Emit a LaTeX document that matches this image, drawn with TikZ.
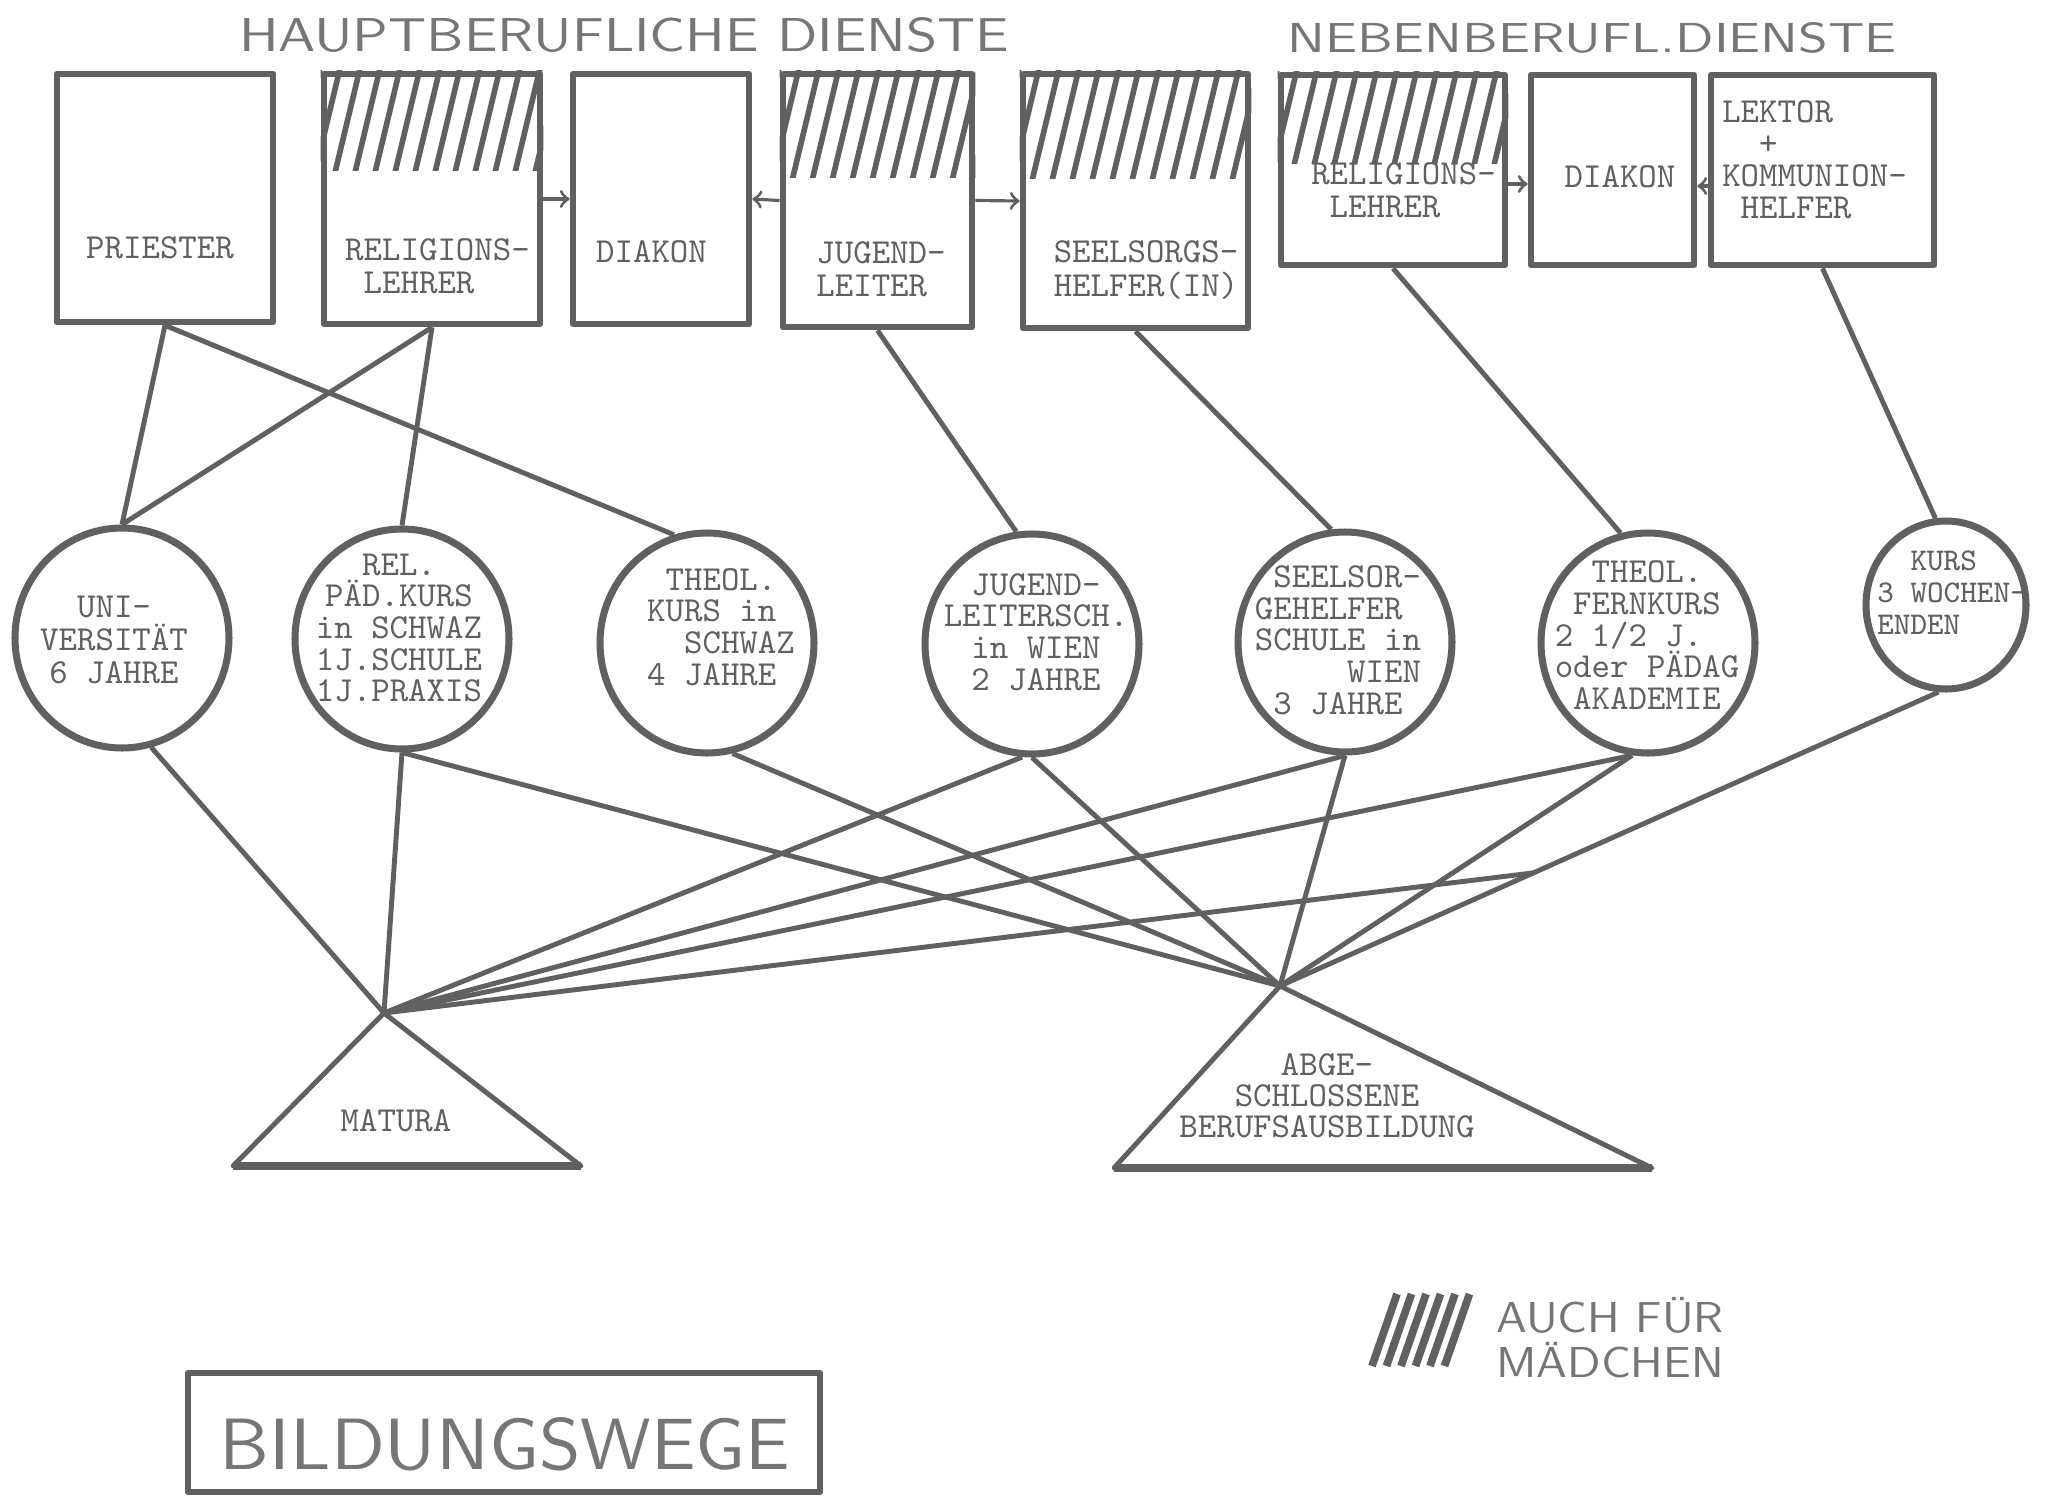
\documentclass[tikz,border=0pt]{standalone}
\usepackage{fontspec}
\usepackage{graphicx}
\usetikzlibrary{shapes.geometric,calc}
\definecolor{ink}{RGB}{96,96,96}
\definecolor{pale}{RGB}{118,118,118}
\newcommand{\lz}{\phantom{0}}

\begin{document}
\begin{tikzpicture}[color=ink,line width=1.4pt,line join=round]
\tikzstyle{box}=[draw,rectangle,line width=1.9pt]
\tikzstyle{kurs}=[draw,ellipse,line width=2pt,minimum width=2.14cm,minimum height=2.2cm]
\tikzstyle{tw}=[font=\ttfamily\fontsize{10}{9.3}\selectfont,inner sep=0pt]
\tikzstyle{hatch}=[line width=1.6pt]
\tikzstyle{pfeil}=[->,line width=0.9pt]
\path[fill=white] (0,0) rectangle (20.46,-15.01);

\node[pale,inner sep=0pt](ti1) at (6.24,-0.35) {\resizebox{7.70cm}{0.34cm}{\sffamily HAUPTBERUFLICHE DIENSTE}};
\node[pale,inner sep=0pt](ti2) at (15.92,-0.38) {\resizebox{6.09cm}{0.30cm}{\sffamily NEBENBERUFL.DIENSTE}};

\node[box,minimum width=2.16cm,minimum height=2.48cm](h1) at (1.65,-1.98) {};
\node[box,minimum width=2.16cm,minimum height=2.50cm](h2) at (4.32,-1.99) {};
\node[box,minimum width=1.76cm,minimum height=2.50cm](h3) at (6.61,-1.99) {};
\node[box,minimum width=1.89cm,minimum height=2.53cm](h4) at (8.775,-2.005) {};
\node[box,minimum width=2.25cm,minimum height=2.54cm](h5) at (11.355,-2.01) {};
\node[box,minimum width=2.24cm,minimum height=1.90cm](n1) at (13.93,-1.70) {};
\node[box,minimum width=1.63cm,minimum height=1.90cm](n2) at (16.125,-1.70) {};
\node[box,minimum width=2.23cm,minimum height=1.90cm](n3) at (18.225,-1.70) {};

\foreach \nm/\tief in {h2/1.0,h4/1.07,h5/1.08,n1/0.92}{
  \begin{scope}
    \clip (\nm.north west) rectangle ([yshift=-\tief cm]\nm.north east);
    \foreach \i in {0,...,12}
      \draw[hatch] ([xshift={\i*0.2cm-0.3cm},yshift=-1.2cm]\nm.north west) -- ++(0.3,1.25);
  \end{scope}
}

\node[tw](t1) at (1.60,-2.48) {PRIESTER};
\node[tw,align=left,font=\ttfamily\fontsize{10}{9.4}\selectfont](t2) at (4.375,-2.665) {RELIGIONS-\\\lz LEHRER};
\node[tw](t3) at (6.515,-2.52) {DIAKON};
\node[tw,align=left,font=\ttfamily\fontsize{10}{9.4}\selectfont](t4) at (8.81,-2.69) {JUGEND-\\LEITER};
\node[tw,align=center,font=\ttfamily\fontsize{10}{9.4}\selectfont](t5) at (11.46,-2.70) {SEELSORGS-\\HELFER(IN)};
\node[tw,align=left,font=\ttfamily\fontsize{10}{9.4}\selectfont](t6) at (14.035,-1.90) {RELIGIONS-\\\lz LEHRER};
\node[tw](t7) at (16.20,-1.77) {DIAKON};
\node[tw,align=left,font=\ttfamily\fontsize{10}{9.1}\selectfont](t8) at (18.145,-1.595) {LEKTOR\\\lz\lz+\\KOMMUNION-\\\lz HELFER};

\draw[pfeil] (h2.east) -- (h3.west);
\draw[pfeil] (h4.west) -- (h3.east);
\draw[pfeil] (h4.east) -- (h5.west);
\draw[pfeil] ([yshift=-0.14cm]n1.east) -- ([yshift=-0.14cm]n2.west);
\draw[pfeil] ([yshift=-0.16cm]n3.west) -- ([yshift=-0.16cm]n2.east);

\node[kurs](k1) at (1.22,-6.38) {};
\node[kurs](k2) at (4.02,-6.39) {};
\node[kurs](k3) at (7.07,-6.43) {};
\node[kurs](k4) at (10.32,-6.44) {};
\node[kurs](k5) at (13.45,-6.42) {};
\node[kurs](k6) at (16.48,-6.43) {};
\node[kurs,minimum width=1.60cm,minimum height=1.68cm](k7) at (19.46,-6.05) {};

\node[tw,align=center](u1) at (1.14,-6.40) {UNI-\\VERSITÄT\\6 JAHRE};
\node[tw,align=center,font=\ttfamily\fontsize{10}{9}\selectfont](u2) at (3.99,-6.28) {REL.\\PÄD.KURS\\in SCHWAZ\\1J.SCHULE\\1J.PRAXIS};
\node[tw,align=left,font=\ttfamily\fontsize{10}{9}\selectfont](u3) at (7.21,-6.27) {\lz THEOL.\\KURS in\\\lz\lz SCHWAZ\\4 JAHRE};
\node[tw,align=center,font=\ttfamily\fontsize{10}{9}\selectfont](u4) at (10.36,-6.32) {JUGEND-\\LEITERSCH.\\in WIEN\\2 JAHRE};
\node[tw,align=left,font=\ttfamily\fontsize{10}{9}\selectfont](u5) at (13.38,-6.40) {\lz SEELSOR-\\GEHELFER\\SCHULE in\\\lz\lz\lz\lz\lz WIEN\\\lz 3 JAHRE};
\node[tw,align=left,font=\ttfamily\fontsize{10}{9}\selectfont](u6) at (16.47,-6.355) {\lz\lz THEOL.\\\lz FERNKURS\\2 1/2 J.\\oder PÄDAG\\\lz AKADEMIE};
\node[tw,align=left,font=\ttfamily\fontsize{9}{9.2}\selectfont](u7) at (19.52,-5.925) {\lz\lz KURS\\3 WOCHEN-\\ENDEN};

\draw (h1.south) -- (k1.north);
\draw (h1.south) -- (k3.107);
\draw (h2.south) -- (k1.north);
\draw (h2.south) -- (k2.north);
\draw (h4.south) -- (k4.98);
\draw (h5.south) -- (k5.97);
\draw (n1.south) -- (k6.104);
\draw (n3.south) -- (k7.97);

\coordinate (m) at (3.84,-10.13);
\coordinate (a) at (12.80,-9.86);
\coordinate (j) at ($(k7.265)!0.615!(a)$);

\draw (m) -- (2.33,-11.66) -- (5.81,-11.66) -- cycle;
\draw[line width=2.3pt] (2.33,-11.66) -- (5.81,-11.66);
\draw (a) -- (11.14,-11.68) -- (16.52,-11.68) -- cycle;
\draw[line width=2.3pt] (11.14,-11.68) -- (16.52,-11.68);

\draw (k1.285) -- (m);
\draw (k2.south) -- (m);
\draw (k2.south) -- (a);
\draw (k3.283) -- (a);
\draw (k4.265) -- (m);
\draw (k4.south) -- (a);
\draw (k5.south) -- (m);
\draw (k5.south) -- (a);
\draw (k6.262) -- (m);
\draw (k6.262) -- (a);
\draw (k7.265) -- (a);
\draw (m) -- (j);

\node[tw](mt) at (3.96,-11.21) {MATURA};
\node[tw,align=center,font=\ttfamily\fontsize{10}{8.8}\selectfont](at) at (13.27,-10.96) {ABGE-\\SCHLOSSENE\\BERUFSAUSBILDUNG};

\foreach \i in {0,...,5}
  \draw[line width=2.2pt] (13.72+0.145*\i,-13.66) -- ++(0.25,0.72);
\node[pale,anchor=base west,inner sep=0pt](le1) at (14.94,-13.32) {\scalebox{1.1}[1]{\sffamily\fontsize{12.3}{14}\selectfont AUCH FÜR}};
\node[pale,anchor=base west,inner sep=0pt](le2) at (14.94,-13.77) {\scalebox{1.1}[1]{\sffamily\fontsize{12.3}{14}\selectfont MÄDCHEN}};

\node[box,minimum width=6.32cm,minimum height=1.19cm](bw) at (5.04,-14.325) {};
\node[pale,inner sep=0pt](bwt) at (5.05,-14.44) {\resizebox{5.70cm}{0.52cm}{\sffamily BILDUNGSWEGE}};
\end{tikzpicture}
\end{document}
